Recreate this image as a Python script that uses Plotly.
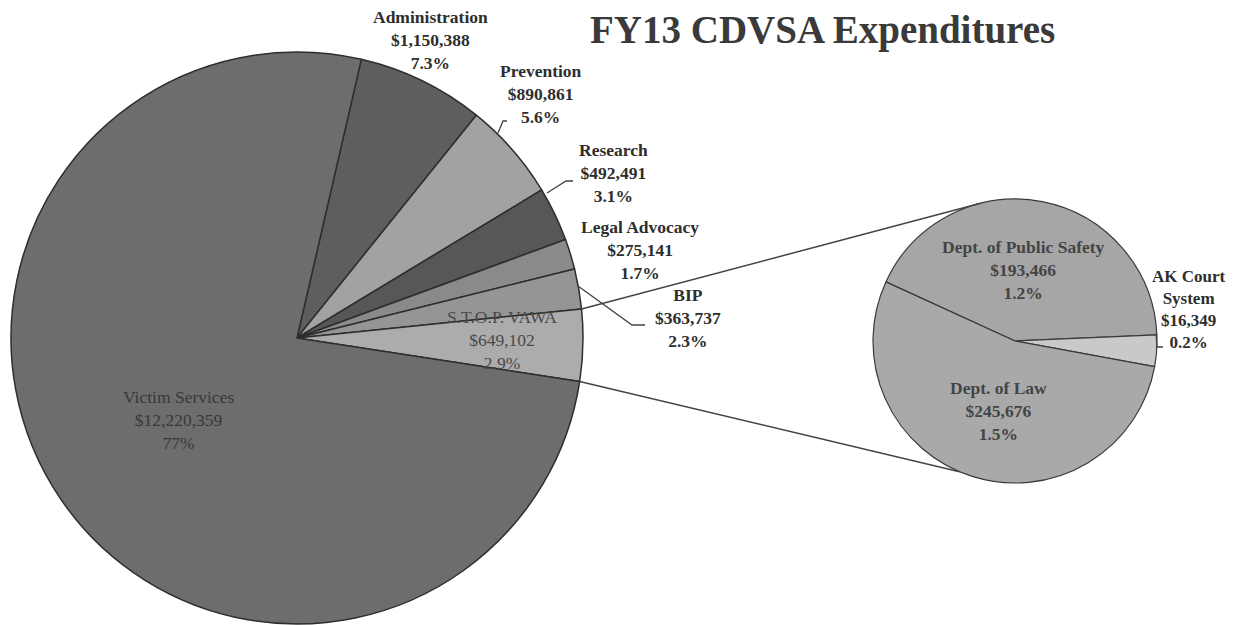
import math
import plotly.graph_objects as go

# main pie
main_labels = ["Administration", "Prevention", "Research", "Legal Advocacy", "BIP",
               "S.T.O.P. VAWA", "Victim Services"]
main_values = [1150388, 890861, 492491, 275141, 363737, 649102, 12220359]
main_pct = ["7.3%", "5.6%", "3.1%", "1.7%", "2.3%", "2.9%", "77%"]
main_colors = ["#5e5e5e", "#a2a2a2", "#575757", "#8a8a8a", "#959595", "#acacac", "#6d6d6d"]

# S.T.O.P. VAWA breakdown (secondary pie)
sub_labels = ["Dept. of Public Safety", "AK Court System", "Dept. of Law"]
sub_values = [193466, 16349, 245676]
sub_pct = ["1.2%", "0.2%", "1.5%"]
sub_colors = ["#a6a6a6", "#c9c9c9", "#a9a9a9"]

# page body has an 8px margin, so the figure is shifted by that amount
OFF = 8
W, H = 1237 - OFF, 625 - OFF
FONT = "Liberation Serif"

# pie placement in page pixels (centre x, centre y, radius)
c1 = (297, 338, 286)
c2 = (1015, 341, 142)
rot1 = 13
rot2 = -65.4


def px(x):
    return (x - OFF) / W


def py(y):
    return 1 - (y - OFF) / H


def dom(c):
    cx, cy, r = c
    return dict(x=[px(cx - r), px(cx + r)], y=[max(0, py(cy + r)), py(cy - r)])


def rim(c, ang):
    cx, cy, r = c
    a = math.radians(ang)
    return cx + r * math.sin(a), cy - r * math.cos(a)


def money(v):
    return "${:,}".format(v)


fig = go.Figure()
fig.add_trace(go.Pie(
    labels=main_labels, values=main_values, sort=False, direction="clockwise",
    rotation=rot1, textinfo="none", hoverinfo="label+value+percent",
    marker=dict(colors=main_colors, line=dict(color="#2e2e2e", width=1.5)),
    domain=dom(c1), showlegend=False,
))
fig.add_trace(go.Pie(
    labels=sub_labels, values=sub_values, sort=False, direction="clockwise",
    rotation=rot2, textinfo="none", hoverinfo="label+value",
    marker=dict(colors=sub_colors, line=dict(color="#3a3a3a", width=1.2)),
    domain=dom(c2), showlegend=False,
))

# connector lines from the S.T.O.P. VAWA slice to the secondary pie
total = sum(main_values)
i_vawa = main_labels.index("S.T.O.P. VAWA")
a0 = rot1 + 360 * sum(main_values[:i_vawa]) / total
a1 = a0 + 360 * main_values[i_vawa] / total
shapes = []
for (ma, sa) in [(a0, -14), (a1, 203)]:
    x0, y0 = rim(c1, ma)
    x1, y1 = rim(c2, sa)
    shapes.append(dict(type="line", xref="paper", yref="paper",
                       x0=px(x0), y0=py(y0), x1=px(x1), y1=py(y1),
                       line=dict(color="#444444", width=1.5)))

# small leader lines (page pixels)
leaders = [
    [(498, 133), (503, 121), (507, 121)],
    [(547, 193), (566, 181), (573, 181)],
    [(578, 286), (632, 325), (645, 325)],
    [(1156, 333), (1157, 347), (1163, 347)],
]
for pts in leaders:
    path = "M " + " L ".join("{},{}".format(px(x), py(y)) for x, y in pts)
    shapes.append(dict(type="path", xref="paper", yref="paper", path=path,
                       line=dict(color="#444444", width=1.3)))

annotations = []


def add_label(text, x, y, bold=True, color="#333333", size=17.5):
    if bold:
        text = "<b>" + text.replace("<br>", "</b><br><b>") + "</b>"
    annotations.append(dict(text=text, x=px(x), y=py(y), xref="paper", yref="paper",
                            showarrow=False, xanchor="center", yanchor="middle",
                            font=dict(family=FONT, size=size, color=color)))


main_pos = {
    "Administration": (430, 40, True, "#2e2e2e"),
    "Prevention": (541, 94, True, "#2e2e2e"),
    "Research": (613, 173, True, "#2e2e2e"),
    "Legal Advocacy": (640, 250, True, "#2e2e2e"),
    "BIP": (688, 318, True, "#2e2e2e"),
    "S.T.O.P. VAWA": (502, 340, False, "#4a4a4a"),
    "Victim Services": (178, 420, False, "#383838"),
}
for lab, val, pct in zip(main_labels, main_values, main_pct):
    x, y, b, col = main_pos[lab]
    add_label("{}<br>{}<br>{}".format(lab, money(val), pct), x, y, b, col)

sub_pos = {
    "Dept. of Public Safety": (1023, 270),
    "Dept. of Law": (998, 411),
    "AK Court System": (1189, 309),
}
for lab, val, pct in zip(sub_labels, sub_values, sub_pct):
    x, y = sub_pos[lab]
    name = lab.replace("Court ", "Court<br>") if lab.startswith("AK") else lab
    col = "#2e2e2e" if lab.startswith("AK") else "#444444"
    size = 17 if lab.startswith("AK") else 17.5
    add_label("{}<br>{}<br>{}".format(name, money(val), pct), x, y, True, col, size)

annotations.append(dict(text="<b>FY13 CDVSA Expenditures</b>", x=px(822), y=py(30),
                        xref="paper", yref="paper", showarrow=False,
                        xanchor="center", yanchor="middle",
                        font=dict(family=FONT, size=39, color="#3a3a3a")))

fig.update_layout(
    width=W, height=H,
    margin=dict(l=0, r=0, t=0, b=0),
    paper_bgcolor="white", plot_bgcolor="white",
    shapes=shapes, annotations=annotations,
)

fig.write_html("out.html")
